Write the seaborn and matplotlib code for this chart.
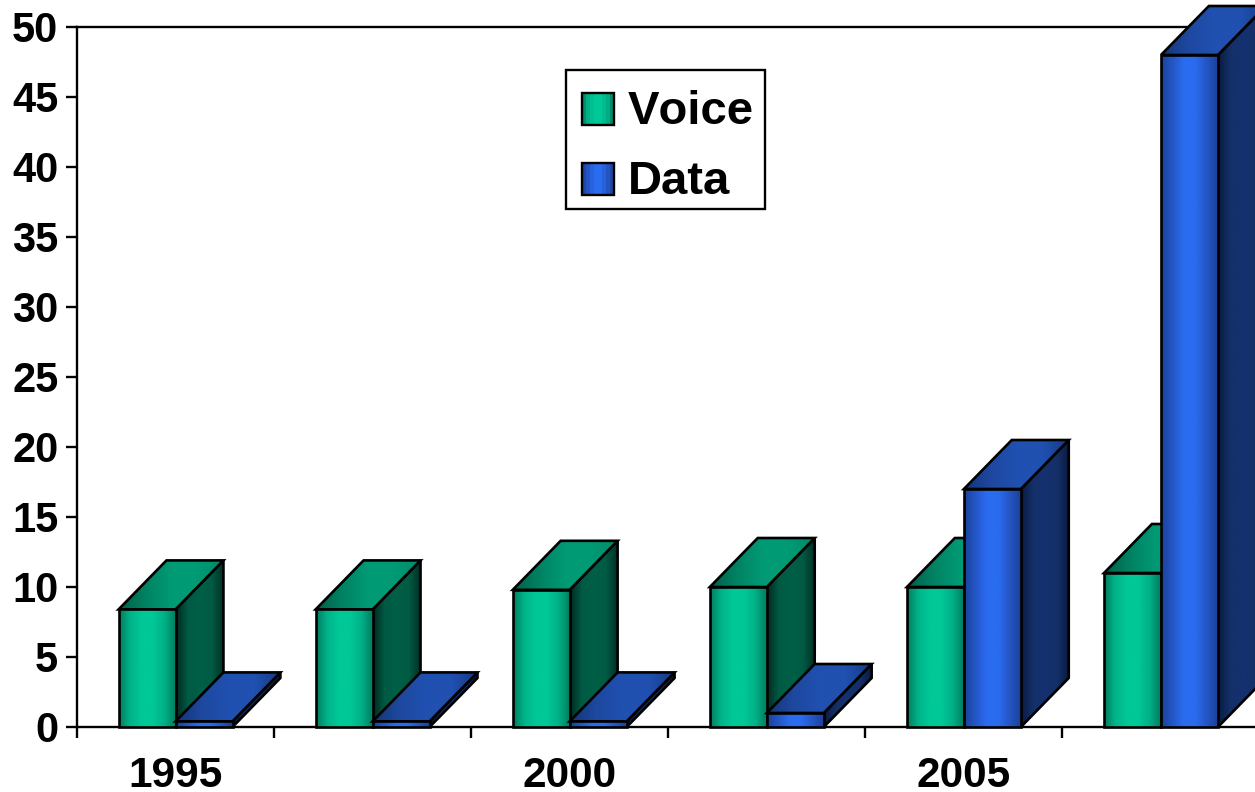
import numpy as np
import pandas as pd
import matplotlib
matplotlib.use("Agg")
import matplotlib.pyplot as plt
import seaborn as sns
from matplotlib.colors import LinearSegmentedColormap
from matplotlib.legend_handler import HandlerBase
from matplotlib.patches import Patch, Polygon, Rectangle

years = ["1995", "1997", "2000", "2002", "2005", "2007"]
voice = [8.4, 8.4, 9.8, 10, 10, 11]
data_traffic = [0.4, 0.4, 0.4, 1, 17, 48]
series_names = ["Voice", "Data"]
shown_year_labels = ["1995", "2000", "2005"]
y_ticks = list(range(0, 51, 5))

# Face shading: left-to-right colour stops for each side of a 3D column
FRONT = {
    "Voice": ["#007d5e", "#00b48a", "#00c896", "#00c896", "#00b087", "#007d5e"],
    "Data": ["#1a419a", "#2456c4", "#2a6cf0", "#2a6cf0", "#2456c4", "#1a419a"],
}
TOP = {
    "Voice": ["#005f47", "#008262", "#009a75", "#009a75", "#008a68"],
    "Data": ["#143578", "#1e489f", "#2050b0", "#2050b0", "#163a85"],
}
SIDE = {
    "Voice": ["#002a20", "#005a44", "#005f47", "#005a44", "#002f24"],
    "Data": ["#0a1a40", "#143068", "#153070", "#143068", "#0a1a40"],
}
DEPTH_X = 0.243   # column depth, in category units
DEPTH_Y = 3.5     # column depth, in value units

sns.set_theme(style="white")
plt.rcParams["font.family"] = ["Liberation Sans", "DejaVu Sans"]
plt.rcParams["font.weight"] = "bold"
plt.rcParams["text.kerning_factor"] = 6
plt.rcParams["text.color"] = "black"

fig = plt.figure(figsize=(12.55, 7.92), dpi=100)
ax = fig.add_axes([77 / 1255, 1 - 727 / 792, 1 - 77 / 1255, 700 / 792])

df = pd.DataFrame({
    "year": years * 2,
    "value": voice + data_traffic,
    "series": ["Voice"] * len(years) + ["Data"] * len(years),
})
sns.barplot(
    data=df, x="year", y="value", hue="series", hue_order=series_names,
    palette={"Voice": "#00c896", "Data": "#2a6cf0"}, width=0.578, gap=0,
    saturation=1, legend=False, ax=ax,
)

XLIM = (-0.5, 5.477)
YLIM = (0, 50)


def shaded_face(points, stops, z):
    """Paint a polygon with a horizontal gradient and a black outline."""
    pts = np.asarray(points)
    cmap = LinearSegmentedColormap.from_list("face", stops)
    extent = (pts[:, 0].min(), pts[:, 0].max(), pts[:, 1].min(), pts[:, 1].max())
    im = ax.imshow(np.linspace(0, 1, 256)[None, :], cmap=cmap, extent=extent,
                   aspect="auto", origin="lower", zorder=z, interpolation="bilinear")
    clip = Polygon(pts, closed=True, transform=ax.transData)
    im.set_clip_box(fig.bbox)
    im.set_clip_path(clip)
    ax.add_patch(Polygon(pts, closed=True, fill=False, edgecolor="black",
                         linewidth=1.9, joinstyle="miter", clip_on=False, zorder=z + 0.01))


# Build each column's three faces from the bars seaborn positioned
z = 3.0
for i in range(len(years)):
    for name, container in zip(series_names, ax.containers):
        bar = container[i]
        bar.set_visible(False)
        x0, x1 = bar.get_x(), bar.get_x() + bar.get_width()
        v = bar.get_height()
        dx, dy = DEPTH_X, DEPTH_Y
        shaded_face([(x1, 0), (x1 + dx, dy), (x1 + dx, v + dy), (x1, v)], SIDE[name], z)
        shaded_face([(x0, v), (x0 + dx, v + dy), (x1 + dx, v + dy), (x1, v)], TOP[name], z + 0.02)
        shaded_face([(x0, 0), (x1, 0), (x1, v), (x0, v)], FRONT[name], z + 0.04)
        z += 0.1

ax.set_xlim(*XLIM)
ax.set_ylim(*YLIM)

# Axes frame: left, bottom and top rules only
for side in ("left", "bottom", "top"):
    ax.spines[side].set_visible(True)
    ax.spines[side].set_color("black")
    ax.spines[side].set_linewidth(1.7)
    ax.spines[side].set_zorder(2)
ax.spines["right"].set_visible(False)

ax.set_yticks(y_ticks)
ax.tick_params(axis="y", which="major", left=True, length=8, width=1.7, color="black",
               labelsize=30, pad=5.5, labelcolor="black")
ax.set_xticks([0, 2, 4], shown_year_labels)
ax.set_xticks(np.arange(-0.5, 5.5, 1), minor=True)
ax.tick_params(axis="x", which="major", bottom=False, length=0, labelsize=30.5, pad=21,
               labelcolor="black")
ax.tick_params(axis="x", which="minor", bottom=True, length=8, width=1.7, color="black")
ax.set_xlabel("")
ax.set_ylabel("")
for label in ax.get_xticklabels() + ax.get_yticklabels():
    label.set_fontweight("bold")


class SteppedSwatch(HandlerBase):
    """Legend key with the same banded shading as the column fronts."""

    def create_artists(self, legend, orig_handle, xdescent, ydescent, width, height,
                       fontsize, trans):
        cmap = LinearSegmentedColormap.from_list("key", FRONT[orig_handle.get_label()])
        artists = []
        steps = 8
        for k in range(steps):
            artists.append(Rectangle((xdescent + width * k / steps, ydescent),
                                     width / steps, height,
                                     facecolor=cmap((k + 0.5) / steps), edgecolor="none",
                                     transform=trans))
        artists.append(Rectangle((xdescent, ydescent), width, height, fill=False,
                                 edgecolor="black", linewidth=1.7, transform=trans))
        return artists


# Legend box outline sits behind a frameless legend so the rows can be placed freely
fig.add_artist(Rectangle((566 / 1255, 1 - 209 / 792), 199 / 1255, 139 / 792,
                         transform=fig.transFigure, facecolor="white", edgecolor="black",
                         linewidth=1.7, zorder=5))
handles = [Patch(label=name) for name in series_names]
legend = ax.legend(
    handles=handles, labels=series_names,
    handler_map={Patch: SteppedSwatch()},
    loc="upper left", bbox_to_anchor=(567 / 1255, 1 - 75 / 792),
    bbox_transform=fig.transFigure, borderaxespad=0,
    prop={"family": "Liberation Sans", "weight": "bold", "size": 34},
    labelcolor="black",
    frameon=False,
    handlelength=0.667, handleheight=0.667, handletextpad=0.3,
    labelspacing=0.55, borderpad=0.32,
)
legend.remove()
fig.add_artist(legend)
legend.set_zorder(6)

fig.savefig("out.png", dpi=100)
